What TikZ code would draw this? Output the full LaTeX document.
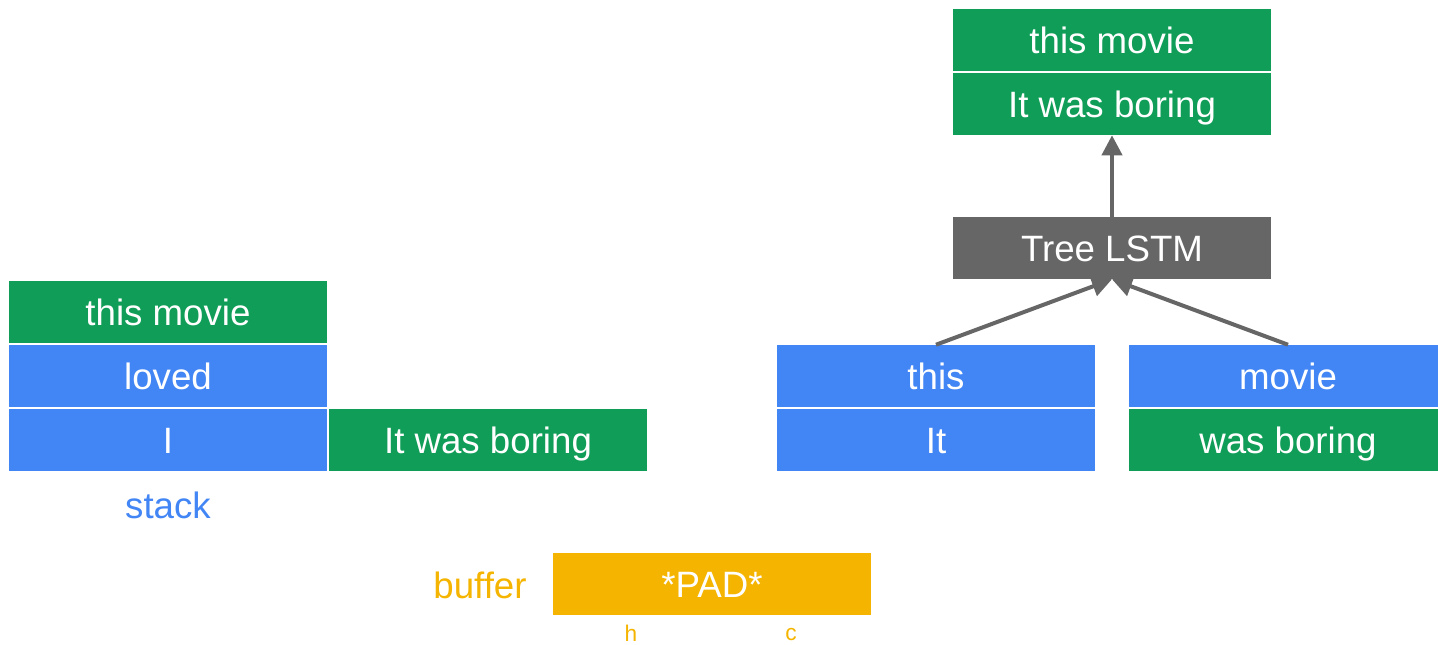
\documentclass[tikz,border=0pt]{standalone}
\usepackage{fontspec}
\setmainfont{Liberation Sans}
\usetikzlibrary{arrows.meta}
\definecolor{gg}{HTML}{0F9D58}
\definecolor{gb}{HTML}{4285F4}
\definecolor{gy}{HTML}{666666}
\definecolor{go}{HTML}{F4B400}
\begin{document}
\begin{tikzpicture}[x=0.75pt,y=-0.75pt,
  cell/.style={inner sep=0pt, minimum width=238.5pt, minimum height=46.5pt,
    text=white, font=\fontsize{27.5}{30}\selectfont, text height=19.6pt, text depth=0pt},
  lbl/.style={inner sep=0pt, font=\fontsize{27.5}{30}\selectfont, text height=19.6pt, text depth=0pt},
  small/.style={inner sep=0pt, font=\fontsize{17}{20}\selectfont, text=go},
  conn/.style={draw=gy, line width=3pt, -{Triangle[width=15pt,length=15pt]}}]
\useasboundingbox (0,0) rectangle (1438,644);
% stack
\node[cell, fill=gg] (s3) at (168,312) {this movie};
\node[cell, fill=gb] (s2) at (168,376) {loved};
\node[cell, fill=gb] (s1) at (168,440) {I};
\node[cell, fill=gg] (s4) at (488,440) {It was boring};
\node[lbl, text=gb] (stack) at (168,505) {stack};
% buffer
\node[lbl, text=go] (buffer) at (480,585) {buffer};
\node[cell, fill=go] (pad) at (712,584) {*PAD*};
\node[small] (h) at (631,633) {h};
\node[small] (c) at (791,634) {c};
% right
\node[cell, fill=gb] (this) at (936,376) {this};
\node[cell, fill=gb] (it) at (936,440) {It};
\node[cell, fill=gb] (movie) at (1288,376) {movie};
\node[cell, fill=gg] (wb) at (1288,440) {was boring};
\node[cell, fill=gy] (tree) at (1112,248) {Tree LSTM};
\node[cell, fill=gg] (t1) at (1112,40) {this movie};
\node[cell, fill=gg] (t2) at (1112,104) {It was boring};
\draw[conn] (tree.north) -- (t2.south);
\draw[conn] (this.north) -- (tree.south);
\draw[conn] (movie.north) -- (tree.south);
\end{tikzpicture}
\end{document}
